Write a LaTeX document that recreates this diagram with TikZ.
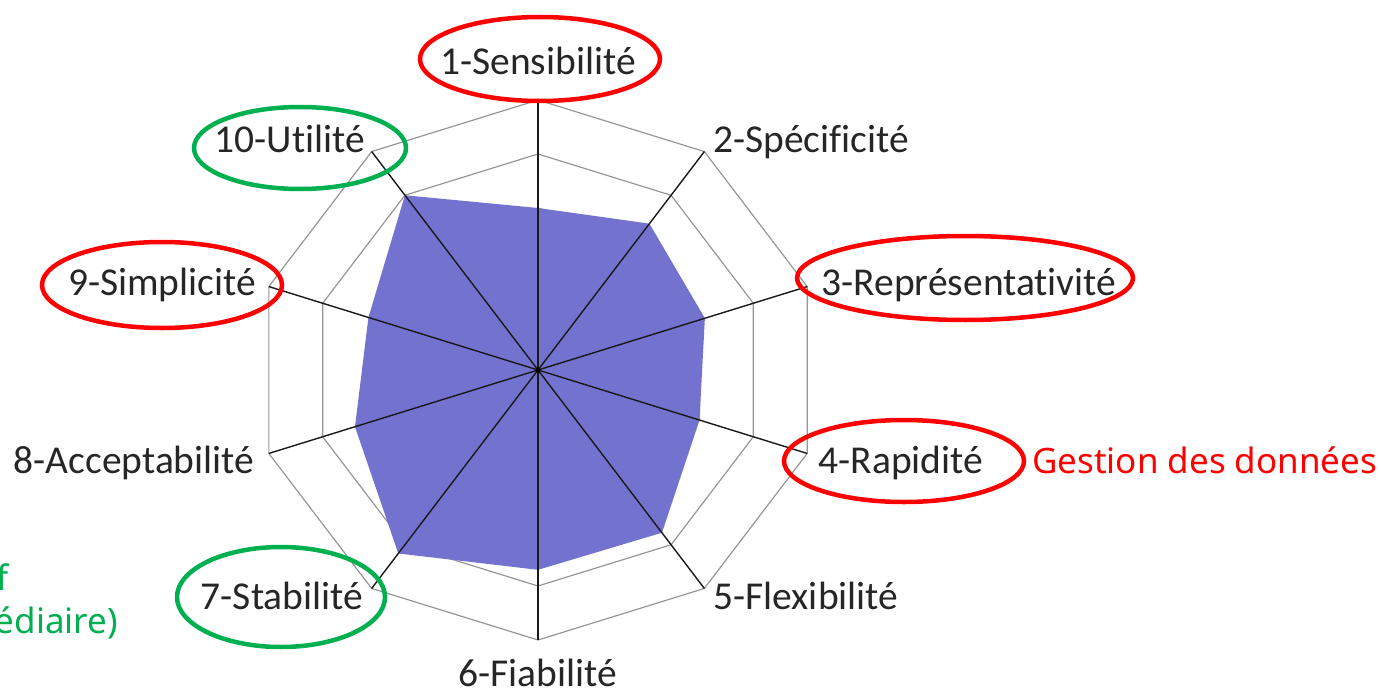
\documentclass[tikz,border=0pt]{standalone}
\usepackage{fontspec}
\setmainfont{Carlito}[Ligatures=NoCommon]
\newfontfamily\notefont{Noto Sans}
\usetikzlibrary{shapes.geometric}
\definecolor{fillblue}{RGB}{115,115,207}
\definecolor{ringgray}{RGB}{150,150,150}
\definecolor{hlred}{RGB}{255,0,0}
\definecolor{hlgreen}{RGB}{0,176,80}
\tikzset{
 ring/.style={draw=ringgray, line width=1.2pt},
 axisline/.style={draw=black!90, line width=1.4pt},
 lbl/.style={font=\fontsize{39.5}{44}\selectfont, text=black!85, inner sep=0pt, anchor=base},
 redmark/.style={draw=hlred, line width=4.5pt, ellipse, inner sep=0pt},
 greenmark/.style={draw=hlgreen, line width=4.5pt, ellipse, inner sep=0pt},
 note/.style={font=\notefont\fontsize{35}{40}\selectfont, inner sep=0pt},
}
\begin{document}
\begin{tikzpicture}[x=1pt,y=-1pt]
\useasboundingbox (0,0) rectangle (1381,690);
\clip (0,0) rectangle (1381,690);
\coordinate (O) at (538,370);
\foreach \k in {1,...,10} {
  \coordinate (a\k) at ({538+283*cos(90-(\k-1)*36)},{370-270*sin(90-(\k-1)*36)});
}
\foreach \r in {0.2,0.4,0.6,0.8,1} {
  \draw[ring] plot[samples at={0,36,...,324}] ({538+283*\r*cos(90-\x)},{370-270*\r*sin(90-\x)}) -- cycle;
}
\foreach \k/\v in {1/0.6,2/0.67,3/0.62,4/0.6,5/0.745,6/0.74,7/0.84,8/0.68,9/0.63,10/0.8} {
  \coordinate (d\k) at ({538+283*\v*cos(90-(\k-1)*36)},{370-270*\v*sin(90-(\k-1)*36)});
}
\fill[fillblue] (d1)--(d2)--(d3)--(d4)--(d5)--(d6)--(d7)--(d8)--(d9)--(d10)--cycle;
\foreach \k in {1,...,10} { \draw[axisline] (O) -- (a\k); }
\fill (O) circle (2.5pt);

\node[lbl] (l1) at (538,75) {1-Sensibilité};
\node[lbl] (l2) at (811,153) {2-Spécificité};
\node[lbl] (l3) at (969,295) {3-Représentativité};
\node[lbl] (l4) at (901,473) {4-Rapidité};
\node[lbl] (l5) at (806,609) {5-Flexibilité};
\node[lbl] (l6) at (538,686) {6-Fiabilité};
\node[lbl] (l7) at (282,609) {7-Stabilité};
\node[lbl] (l8) at (134,473) {8-Acceptabilité};
\node[lbl] (l9) at (162,295) {9-Simplicité};
\node[lbl] (l10) at (290,153) {10-Utilité};

\node[redmark, minimum width=240pt, minimum height=84pt] (e1) at (540,59) {};
\node[greenmark, minimum width=212pt, minimum height=82pt] (e10) at (300,148) {};
\node[redmark, minimum width=240pt, minimum height=86pt] (e9) at (162,285) {};
\node[redmark, minimum width=336pt, minimum height=84pt] (e3) at (965,278) {};
\node[redmark, minimum width=240pt, minimum height=82pt] (e4) at (904,461) {};
\node[greenmark, minimum width=208pt, minimum height=100pt] (e7) at (281,597) {};

\node[note, text=hlred, anchor=base west] (g) at (1032,473) {Gestion des données};
\node[note, text=hlgreen, anchor=base east] (n1) at (9,590) {f};
\node[note, text=hlgreen, anchor=base east] (n2) at (118,633) {édiaire)};
\end{tikzpicture}
\end{document}
